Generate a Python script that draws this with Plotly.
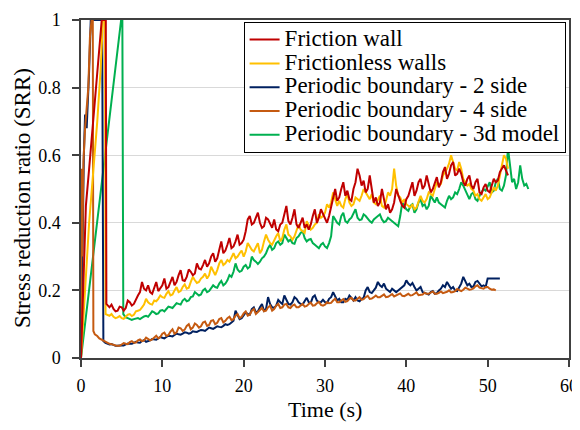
import plotly.graph_objects as go

# ---------------- data ----------------
series_names = ["Friction wall", "Frictionless walls", "Periodic boundary - 2 side",
                "Periodic boundary - 4 side", "Periodic boundary - 3d model"]
series_colors = ["#C00000", "#FFC000", "#002060", "#C55A11", "#00B050"]
x_title = "Time (s)"
y_title = "Stress reduction ratio (SRR)"

# start-up transients (time, SRR); values beyond the axis are read as 1
red_t0 = [0.0, 0.3, 0.6, 1.0, 1.5, 2.0, 2.55, 3.05, 3.12]
red_v0 = [0.0, 0.25, 0.45, 0.56, 0.70, 0.85, 1.0, 1.0, 0.16]
yel_t0 = [0.0, 0.5, 1.0, 1.5, 2.0, 2.4, 2.7, 2.95, 3.02]
yel_v0 = [0.0, 0.20, 0.40, 0.55, 0.70, 0.85, 1.0, 1.0, 0.13]
nav_t0 = [0.0, 0.2, 0.35, 0.5, 0.7, 1.0, 1.2, 2.6, 2.66, 2.75]
nav_v0 = [0.0, 0.45, 0.60, 0.72, 0.68, 0.85, 1.0, 1.0, 0.085, 0.05]
org_t0 = [0.0, 0.08, 0.15, 0.3, 0.5, 0.7, 0.9, 1.1, 1.3, 1.45, 1.52, 1.7]
org_v0 = [0.0, 0.56, 0.30, 0.58, 0.68, 0.74, 0.80, 0.95, 1.0, 1.0, 0.08, 0.07]
grn_t0 = [0.0, 5.0, 5.08, 5.2]
grn_v0 = [0.0, 1.03, 1.03, 0.13]

# sampled records after the start-up: values every 0.5 s plus the value
# half-way between each pair (0.25 s later)
step = 0.5
red_start, yel_start, nav_start, org_start, grn_start = 3.5, 3.5, 3.0, 2.0, 5.5

red_v = [0.150, 0.145, 0.140, 0.150, 0.148, 0.165, 0.160, 0.185, 0.225, 0.200,
         0.195, 0.205, 0.198, 0.215, 0.205, 0.225, 0.215, 0.245, 0.230, 0.240,
         0.255, 0.250, 0.265, 0.275, 0.270, 0.300, 0.285, 0.320, 0.310, 0.335,
         0.325, 0.345, 0.335, 0.350, 0.410, 0.395, 0.415, 0.400, 0.390, 0.410,
         0.385, 0.380, 0.395, 0.430, 0.405, 0.415, 0.395, 0.400, 0.385, 0.380,
         0.420, 0.400, 0.440, 0.410, 0.420, 0.480, 0.465, 0.500, 0.480, 0.470,
         0.500, 0.560, 0.510, 0.490, 0.540, 0.460, 0.450, 0.500, 0.440, 0.430,
         0.460, 0.480, 0.450, 0.470, 0.500, 0.480, 0.520, 0.500, 0.540, 0.490,
         0.520, 0.505, 0.550, 0.530, 0.570, 0.540, 0.560, 0.520, 0.530, 0.510,
         0.520, 0.490, 0.505, 0.495, 0.510, 0.520, 0.550, 0.570, 0.540]
red_mid = [0.158, 0.138, 0.152, 0.140, 0.170, 0.155, 0.175, 0.195, 0.205, 0.215,
           0.190, 0.225, 0.205, 0.235, 0.210, 0.240, 0.225, 0.260, 0.228, 0.262,
           0.245, 0.280, 0.262, 0.290, 0.280, 0.310, 0.295, 0.345, 0.318, 0.355,
           0.330, 0.365, 0.340, 0.375, 0.420, 0.400, 0.430, 0.385, 0.415, 0.395,
           0.410, 0.375, 0.400, 0.450, 0.395, 0.440, 0.385, 0.415, 0.395, 0.395,
           0.440, 0.415, 0.425, 0.400, 0.450, 0.500, 0.475, 0.520, 0.495, 0.465,
           0.520, 0.540, 0.525, 0.500, 0.500, 0.475, 0.460, 0.470, 0.455, 0.440,
           0.500, 0.465, 0.445, 0.480, 0.520, 0.495, 0.530, 0.510, 0.515, 0.500,
           0.535, 0.520, 0.565, 0.545, 0.580, 0.545, 0.545, 0.510, 0.540, 0.500,
           0.530, 0.485, 0.515, 0.490, 0.530, 0.525, 0.560, 0.555]

yel_v = [0.125, 0.122, 0.120, 0.118, 0.122, 0.130, 0.128, 0.140, 0.150, 0.175,
         0.160, 0.170, 0.175, 0.180, 0.190, 0.185, 0.200, 0.195, 0.210, 0.205,
         0.225, 0.230, 0.225, 0.240, 0.235, 0.270, 0.245, 0.280, 0.275, 0.290,
         0.300, 0.295, 0.310, 0.300, 0.340, 0.320, 0.330, 0.310, 0.345, 0.350,
         0.335, 0.360, 0.345, 0.380, 0.365, 0.350, 0.375, 0.380, 0.370, 0.390,
         0.385, 0.400, 0.415, 0.430, 0.445, 0.490, 0.450, 0.450, 0.470, 0.460,
         0.455, 0.470, 0.480, 0.490, 0.470, 0.460, 0.470, 0.450, 0.465, 0.480,
         0.560, 0.480, 0.460, 0.455, 0.445, 0.440, 0.460, 0.465, 0.470, 0.485,
         0.500, 0.510, 0.540, 0.560, 0.600, 0.560, 0.580, 0.530, 0.510, 0.500,
         0.480, 0.470, 0.475, 0.470, 0.490, 0.495, 0.540, 0.600, 0.560]
yel_mid = [0.130, 0.118, 0.124, 0.116, 0.128, 0.124, 0.138, 0.142, 0.158, 0.165,
           0.158, 0.168, 0.185, 0.178, 0.198, 0.188, 0.210, 0.198, 0.218, 0.208,
           0.240, 0.222, 0.235, 0.250, 0.245, 0.255, 0.260, 0.290, 0.280, 0.285,
           0.310, 0.300, 0.318, 0.315, 0.330, 0.315, 0.340, 0.320, 0.365, 0.340,
           0.350, 0.370, 0.355, 0.395, 0.360, 0.360, 0.395, 0.375, 0.405, 0.380,
           0.395, 0.425, 0.420, 0.455, 0.460, 0.470, 0.465, 0.445, 0.485, 0.450,
           0.475, 0.465, 0.500, 0.480, 0.485, 0.455, 0.480, 0.445, 0.490, 0.500,
           0.510, 0.475, 0.470, 0.450, 0.455, 0.445, 0.480, 0.460, 0.490, 0.480,
           0.520, 0.515, 0.550, 0.575, 0.580, 0.555, 0.560, 0.520, 0.515, 0.495,
           0.485, 0.465, 0.485, 0.475, 0.505, 0.510, 0.575, 0.590]

nav_v = [0.045, 0.040, 0.038, 0.036, 0.038, 0.040, 0.042, 0.045, 0.046, 0.050,
         0.048, 0.052, 0.055, 0.058, 0.060, 0.062, 0.065, 0.068, 0.070, 0.072,
         0.075, 0.074, 0.078, 0.080, 0.082, 0.085, 0.088, 0.090, 0.092, 0.095,
         0.098, 0.105, 0.140, 0.115, 0.125, 0.130, 0.145, 0.135, 0.150, 0.140,
         0.180, 0.150, 0.155, 0.165, 0.185, 0.160, 0.165, 0.175, 0.160, 0.170,
         0.165, 0.180, 0.170, 0.165, 0.165, 0.175, 0.195, 0.170, 0.165, 0.175,
         0.185, 0.170, 0.170, 0.175, 0.200, 0.195, 0.200, 0.225, 0.210, 0.205,
         0.195, 0.200, 0.200, 0.210, 0.230, 0.215, 0.210, 0.205, 0.195, 0.190,
         0.195, 0.190, 0.200, 0.215, 0.225, 0.205, 0.200, 0.210, 0.240, 0.215,
         0.210, 0.225, 0.220, 0.215, 0.235, 0.235, 0.235, 0.235]
nav_mid = [0.042, 0.041, 0.036, 0.038, 0.037, 0.043, 0.042, 0.048, 0.045, 0.053,
           0.049, 0.056, 0.054, 0.062, 0.058, 0.066, 0.064, 0.072, 0.069, 0.076,
           0.072, 0.079, 0.077, 0.083, 0.080, 0.090, 0.086, 0.094, 0.091, 0.100,
           0.100, 0.110, 0.125, 0.118, 0.135, 0.128, 0.150, 0.138, 0.160, 0.145,
           0.160, 0.148, 0.172, 0.160, 0.170, 0.158, 0.180, 0.165, 0.158, 0.178,
           0.163, 0.185, 0.165, 0.172, 0.163, 0.180, 0.180, 0.175, 0.165, 0.172,
           0.178, 0.180, 0.168, 0.178, 0.210, 0.192, 0.208, 0.215, 0.220, 0.200,
           0.205, 0.195, 0.205, 0.215, 0.220, 0.222, 0.200, 0.210, 0.192, 0.188,
           0.198, 0.192, 0.205, 0.210, 0.215, 0.210, 0.198, 0.220, 0.225, 0.220,
           0.212, 0.228, 0.212, 0.210, 0.235, 0.235, 0.235]

org_v = [0.065, 0.055, 0.048, 0.042, 0.038, 0.036, 0.040, 0.042, 0.047, 0.045,
         0.052, 0.050, 0.060, 0.052, 0.062, 0.058, 0.072, 0.065, 0.078, 0.072,
         0.090, 0.080, 0.095, 0.085, 0.102, 0.090, 0.105, 0.095, 0.110, 0.100,
         0.115, 0.105, 0.118, 0.112, 0.125, 0.118, 0.132, 0.125, 0.140, 0.130,
         0.142, 0.138, 0.150, 0.140, 0.155, 0.148, 0.158, 0.150, 0.155, 0.150,
         0.155, 0.152, 0.160, 0.155, 0.162, 0.157, 0.158, 0.162, 0.170, 0.165,
         0.170, 0.166, 0.175, 0.170, 0.175, 0.172, 0.180, 0.175, 0.180, 0.180,
         0.184, 0.180, 0.185, 0.182, 0.188, 0.184, 0.186, 0.185, 0.190, 0.186,
         0.188, 0.190, 0.194, 0.190, 0.193, 0.192, 0.196, 0.194, 0.198, 0.200,
         0.202, 0.205, 0.203, 0.212, 0.208, 0.205, 0.210, 0.202, 0.200]
org_mid = [0.058, 0.052, 0.044, 0.041, 0.037, 0.036, 0.044, 0.041, 0.050, 0.046,
           0.055, 0.052, 0.056, 0.055, 0.066, 0.062, 0.075, 0.068, 0.085, 0.076,
           0.088, 0.084, 0.100, 0.090, 0.098, 0.094, 0.108, 0.098, 0.112, 0.104,
           0.118, 0.110, 0.122, 0.115, 0.130, 0.122, 0.138, 0.128, 0.145, 0.135,
           0.148, 0.140, 0.155, 0.145, 0.160, 0.150, 0.160, 0.148, 0.158, 0.150,
           0.160, 0.154, 0.164, 0.156, 0.166, 0.155, 0.165, 0.163, 0.175, 0.165,
           0.174, 0.168, 0.178, 0.170, 0.180, 0.174, 0.184, 0.176, 0.185, 0.180,
           0.188, 0.181, 0.189, 0.184, 0.191, 0.183, 0.190, 0.186, 0.194, 0.187,
           0.193, 0.190, 0.197, 0.190, 0.197, 0.193, 0.200, 0.195, 0.204, 0.198,
           0.208, 0.202, 0.206, 0.215, 0.206, 0.210, 0.205, 0.203]

grn_v = [0.120, 0.115, 0.115, 0.118, 0.120, 0.125, 0.130, 0.135, 0.132, 0.142,
         0.145, 0.150, 0.155, 0.160, 0.170, 0.168, 0.180, 0.195, 0.185, 0.200,
         0.195, 0.205, 0.210, 0.220, 0.215, 0.230, 0.240, 0.280, 0.255, 0.270,
         0.265, 0.300, 0.285, 0.285, 0.300, 0.325, 0.320, 0.340, 0.335, 0.365,
         0.345, 0.340, 0.355, 0.370, 0.355, 0.350, 0.340, 0.330, 0.335, 0.330,
         0.340, 0.420, 0.400, 0.420, 0.405, 0.410, 0.430, 0.415, 0.410, 0.420,
         0.405, 0.410, 0.420, 0.410, 0.405, 0.410, 0.400, 0.390, 0.460, 0.440,
         0.450, 0.430, 0.460, 0.450, 0.440, 0.480, 0.460, 0.460, 0.450, 0.465,
         0.470, 0.490, 0.500, 0.510, 0.480, 0.485, 0.470, 0.480, 0.500, 0.510,
         0.490, 0.520, 0.500, 0.510, 0.620, 0.520, 0.500, 0.570, 0.510, 0.500]
grn_mid = [0.118, 0.113, 0.117, 0.115, 0.123, 0.122, 0.138, 0.130, 0.140, 0.138,
           0.152, 0.148, 0.162, 0.158, 0.175, 0.170, 0.182, 0.190, 0.188, 0.205,
           0.198, 0.215, 0.208, 0.228, 0.220, 0.245, 0.255, 0.262, 0.258, 0.275,
           0.270, 0.290, 0.278, 0.295, 0.310, 0.335, 0.325, 0.345, 0.340, 0.355,
           0.350, 0.338, 0.360, 0.375, 0.345, 0.352, 0.335, 0.325, 0.340, 0.325,
           0.360, 0.410, 0.395, 0.430, 0.400, 0.415, 0.440, 0.408, 0.425, 0.412,
           0.400, 0.415, 0.425, 0.402, 0.415, 0.405, 0.395, 0.420, 0.450, 0.435,
           0.455, 0.440, 0.470, 0.455, 0.450, 0.470, 0.475, 0.455, 0.445, 0.480,
           0.475, 0.485, 0.520, 0.495, 0.470, 0.490, 0.465, 0.490, 0.495, 0.520,
           0.495, 0.530, 0.495, 0.540, 0.560, 0.530, 0.520, 0.530, 0.515]

x_ticks = [0, 10, 20, 30, 40, 50, 60]
y_ticks = [0, 0.2, 0.4, 0.6, 0.8, 1]


def record(t0, v0, start, values, mids):
    t, v = list(t0), list(v0)
    for i, val in enumerate(values):
        t.append(start + step * i)
        v.append(val)
        if i < len(mids) and i < len(values) - 1:
            t.append(start + step * i + step / 2)
            v.append(mids[i])
    return t, v


series = [
    record(red_t0, red_v0, red_start, red_v, red_mid),
    record(yel_t0, yel_v0, yel_start, yel_v, yel_mid),
    record(nav_t0, nav_v0, nav_start, nav_v, nav_mid),
    record(org_t0, org_v0, org_start, org_v, org_mid),
    record(grn_t0, grn_v0, grn_start, grn_v, grn_mid),
]

FONT = "Liberation Serif"

fig = go.Figure()
# draw order: the green 3d model and the periodic curves under the wall curves
order = [4, 2, 3, 1, 0]
for i in order:
    t, v = series[i]
    fig.add_trace(go.Scatter(
        x=t, y=v, mode="lines",
        name="<span style='font-size:23px'>" + series_names[i] + "</span>",
        line=dict(color=series_colors[i], width=2),
        legendrank=i + 1,
    ))

# the page body has an 8 px margin, so the figure is shrunk to fit the window
fig.update_layout(
    width=572, height=414,
    margin=dict(l=73, r=11, t=12, b=64),
    paper_bgcolor="white", plot_bgcolor="white",
    font=dict(family=FONT, size=18, color="black"),
    showlegend=True,
    legend=dict(
        x=0.993, y=0.995, xanchor="right", yanchor="top",
        bgcolor="white", bordercolor="black", borderwidth=1,
        font=dict(family=FONT, size=16, color="black"),
        traceorder="normal", tracegroupgap=0,
    ),
    xaxis=dict(
        range=[0, 60], tickvals=x_ticks, ticks="outside", ticklen=7,
        tickwidth=1.5, tickcolor="#404040", automargin=False,
        ticklabelstandoff=4, ticklabeloverflow="allow",
        showline=True, linecolor="#404040", linewidth=1.5, mirror=True,
        showgrid=False, zeroline=False,
        tickfont=dict(family=FONT, size=18),
    ),
    yaxis=dict(
        range=[0, 1], tickvals=y_ticks, ticks="outside", ticklen=7,
        tickwidth=1.5, tickcolor="#404040", automargin=False,
        ticklabelstandoff=8,
        showline=True, linecolor="#404040", linewidth=1.5, mirror=True,
        showgrid=True, gridcolor="#D9D9D9", gridwidth=1, zeroline=False,
        tickfont=dict(family=FONT, size=18),
    ),
    annotations=[
        dict(text=x_title, xref="paper", yref="paper", x=0.5, y=-0.152,
             xanchor="center", yanchor="middle", showarrow=False,
             font=dict(family=FONT, size=22, color="black")),
        dict(text=y_title, xref="paper", yref="paper", x=-0.121, y=0.473,
             xanchor="center", yanchor="middle", showarrow=False, textangle=-90,
             font=dict(family=FONT, size=23, color="black")),
    ],
)

fig.write_html("out.html")
